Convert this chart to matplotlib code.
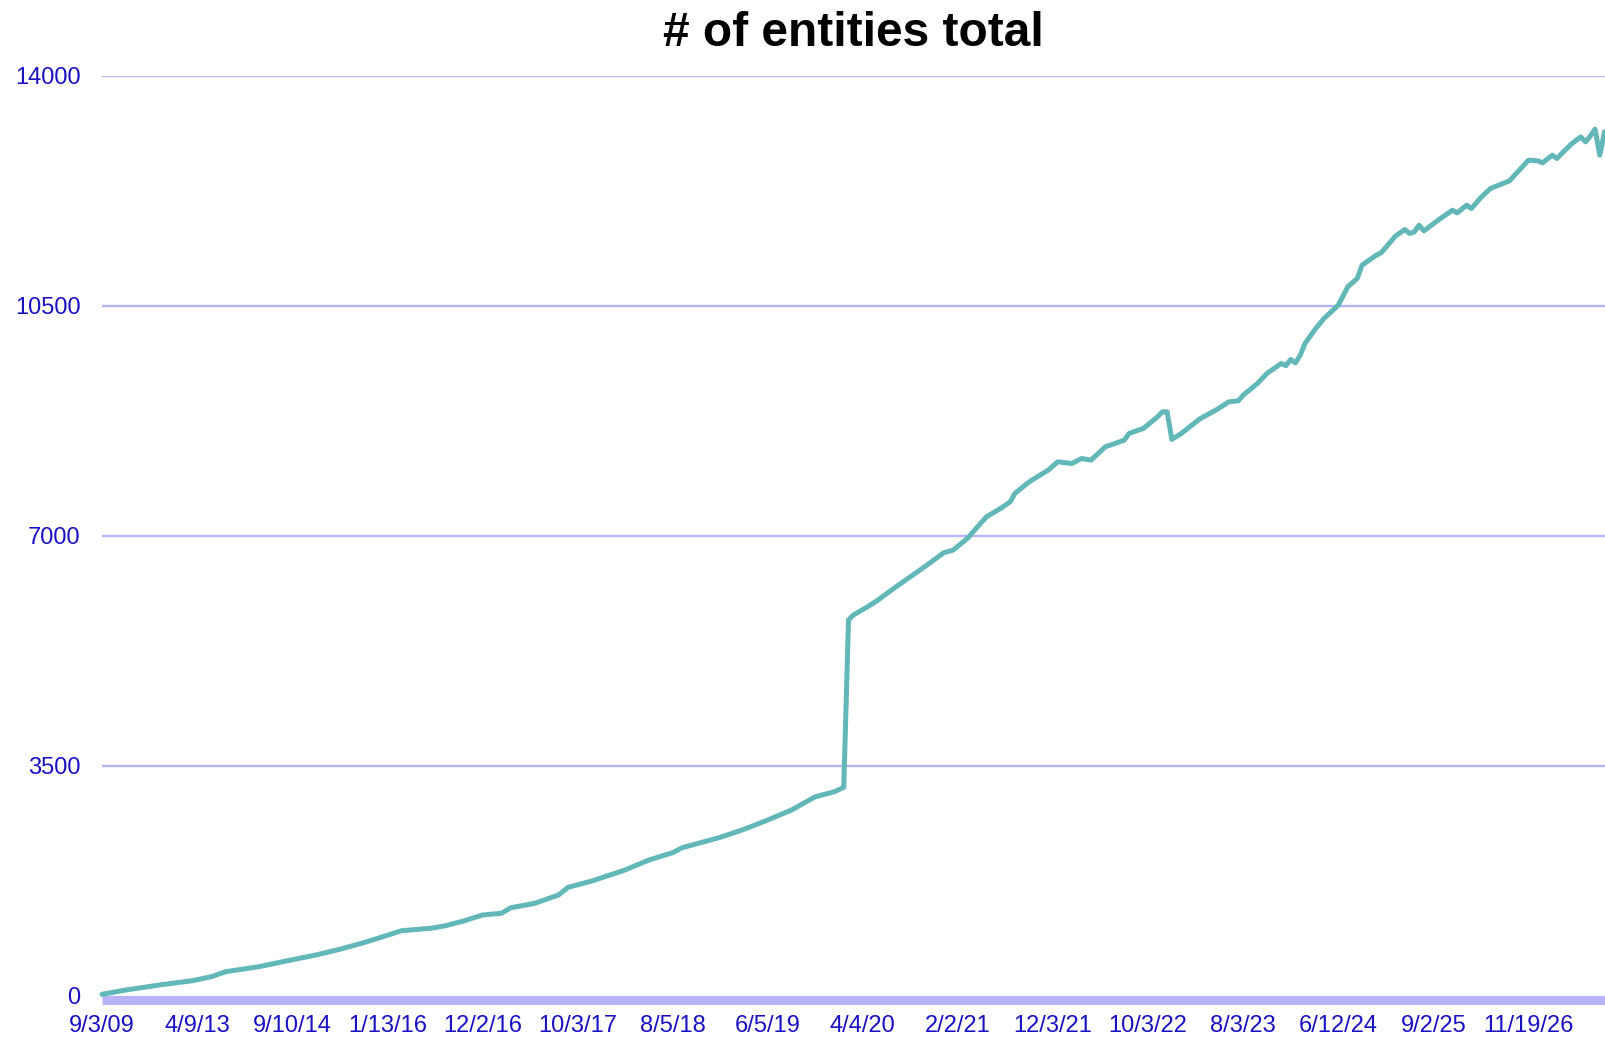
import matplotlib
matplotlib.use("Agg")
import matplotlib.pyplot as plt
from matplotlib.transforms import offset_copy

plt.rcParams['font.family'] = ['Liberation Sans', 'DejaVu Sans']

# datos (fila de la hoja, valor)
filas = [0, 5, 12, 19, 23, 26, 33, 39, 45, 50, 55, 58, 63, 69, 72, 76, 80, 84, 86,
         91, 96, 98, 103, 110, 115, 120, 122, 130, 135, 140, 145, 150, 154, 156,
         157, 158, 161, 163, 166, 170, 173, 177, 179, 182, 186, 189, 191, 192, 195,
         199, 201, 204, 206, 208, 211, 215, 216, 219, 222, 223, 224, 225, 227, 231,
         234, 237, 239, 240, 243, 245, 248, 249, 250, 251, 252, 253, 255, 257, 260,
         262, 264, 265, 268, 269, 270, 272, 274, 275, 276, 277, 278, 281, 284, 285,
         287, 288, 290, 292, 296, 300, 302, 303, 305, 306, 307, 309, 311, 312, 313,
         314, 315, 316]
valores = [20, 85, 161, 227, 288, 364, 440, 531, 618, 705, 805, 872, 988, 1024, 1059, 1135, 1227, 1253, 1338,
           1405, 1531, 1648, 1744, 1912, 2064, 2175, 2251, 2409, 2531, 2673, 2825, 3027, 3103, 3170,
           5717, 5793, 5920, 6011, 6173, 6376, 6528, 6741, 6782, 6960, 7289, 7417, 7517, 7645, 7822,
           8000, 8126, 8101, 8177, 8152, 8354, 8456, 8558, 8634, 8811, 8887, 8887, 8467, 8558, 8786,
           8902, 9039, 9055, 9141, 9319, 9471, 9624, 9590, 9685, 9633, 9750, 9928, 10130, 10308, 10511,
           10790, 10918, 11120, 11273, 11307, 11389, 11561, 11663, 11602, 11627, 11729, 11642, 11805, 11957, 11916,
           12033, 11983, 12150, 12287, 12403, 12718, 12708, 12678, 12795, 12744, 12820, 12962, 13073, 12997, 13084,
           13191, 12795, 13151]

etiquetas_x = ['9/3/09', '4/9/13', '9/10/14', '1/13/16', '12/2/16', '10/3/17', '8/5/18', '6/5/19',
               '4/4/20', '2/2/21', '12/3/21', '10/3/22', '8/3/23', '6/12/24', '9/2/25', '11/19/26']
paso_etiquetas = 20
ticks_y = [0, 3500, 7000, 10500, 14000]

COLOR_LINEA = '#62b8b8'
COLOR_GRID = '#b7b2fa'
COLOR_TEXTO = '#1a10c4'

fig = plt.figure(figsize=(16.05, 10.37), dpi=100)
ax = fig.add_axes([0.06355, 0.03992, 0.93645, 0.8868])

ax.plot(filas, valores, color=COLOR_LINEA, linewidth=3.6, solid_joinstyle='round',
        solid_capstyle='round', zorder=3, clip_on=False)

ax.set_ylim(0, 14000)
ax.set_xlim(0, 316.1)
ax.set_yticks(ticks_y)
ax.set_yticklabels([str(t) for t in ticks_y])
ax.set_xticks([i * paso_etiquetas for i in range(len(etiquetas_x))])
ax.set_xticklabels(etiquetas_x)

ax.tick_params(axis='both', length=0, labelsize=17, labelcolor=COLOR_TEXTO)
ax.tick_params(axis='y', pad=15.5)
ax.tick_params(axis='x', pad=14)

# lineas de la grilla (sin la del cero)
for t in ticks_y[1:]:
    ax.axhline(t, color=COLOR_GRID, linewidth=1.7, zorder=1)

# linea base gruesa bajo el cero
trans = offset_copy(ax.get_yaxis_transform(), fig=fig, x=0, y=-4.5, units='dots')
ax.plot([0, 1], [0, 0], transform=trans, color=COLOR_GRID, linewidth=6.5,
        solid_capstyle='butt', clip_on=False, zorder=2)

for s in ax.spines.values():
    s.set_visible(False)

fig.text(0.5315, 0.9556, '# of entities total', ha='center', va='baseline',
         fontsize=34.5, fontweight='bold', color='black')

plt.savefig('out.png', dpi=100)
plt.close()
